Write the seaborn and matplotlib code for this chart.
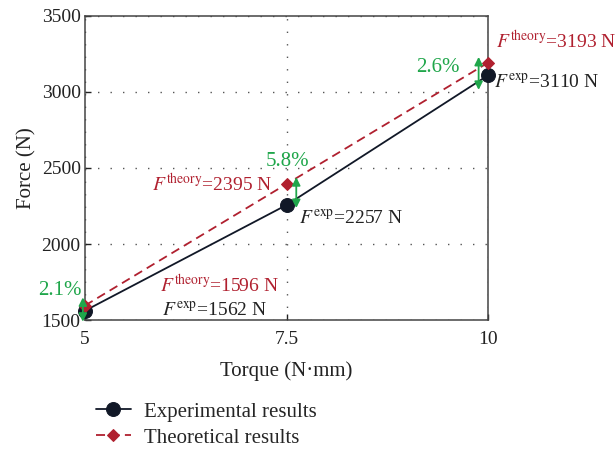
import numpy as np
import pandas as pd
import matplotlib
matplotlib.use('Agg')
import matplotlib.pyplot as plt
import seaborn as sns

# data
torque = [5, 7.5, 10]
f_exp = [1562, 2257, 3110]
f_theory = [1596, 2395, 3193]
errors = ['2.1%', '5.8%', '2.6%']

RED = '#b0202f'
NAVY = '#111827'
GREEN = '#1fa64a'

sns.set_style('ticks')
plt.rcParams['font.family'] = ['Liberation Serif', 'DejaVu Serif']
plt.rcParams['mathtext.fontset'] = 'stix'

df = pd.DataFrame({'torque': torque, 'exp': f_exp, 'theory': f_theory})

fig = plt.figure(figsize=(6.15, 4.51), dpi=100)
ax = fig.add_axes([0.138, 0.290, 0.656, 0.675])

sns.lineplot(data=df, x='torque', y='exp', ax=ax, color=NAVY, lw=1.3,
             marker='o', markersize=10, markeredgecolor=NAVY,
             label='Experimental results', clip_on=False, zorder=4)
sns.lineplot(data=df, x='torque', y='theory', ax=ax, color=RED, lw=1.3,
             linestyle=(0, (5, 3)), marker='D', markersize=6.5,
             markeredgecolor=RED, label='Theoretical results',
             clip_on=False, zorder=5)

ax.set_xlim(5, 10)
ax.set_ylim(1500, 3500)
ax.set_xticks(torque)
ax.set_xticklabels(['5', '7.5', '10'])
ax.set_yticks([1500, 2000, 2500, 3000, 3500])
ax.tick_params(direction='in', length=4, width=1, labelsize=14, colors='#222222')
ax.tick_params(axis='x', pad=8)
ax.tick_params(axis='y', pad=3)
for s in ax.spines.values():
    s.set_color('#444444')
    s.set_linewidth(1.1)
ax.grid(True, linestyle=(0, (1, 8)), color='#555555', lw=1)
ax.set_xlabel('Torque (N·mm)', fontsize=15, color='#222222', labelpad=9)
ax.set_ylabel('Force (N)', fontsize=15, color='#222222', labelpad=4)

# error arrows (x offset, top, bottom)
arrow_x = [4.975, 7.62, 9.88]
arrow_top = [1650, 2440, 3230]
arrow_bot = [1490, 2237, 3013]
for x, t, b in zip(arrow_x, arrow_top, arrow_bot):
    ax.annotate('', xy=(x, t), xytext=(x, b), annotation_clip=False,
                arrowprops=dict(arrowstyle='<|-|>', color=GREEN, lw=1.3,
                                mutation_scale=12, shrinkA=0, shrinkB=0),
                zorder=6)

pct_pos = [(4.69, 1697), (7.51, 2540), (9.38, 3158)]
for (x, y), e in zip(pct_pos, errors):
    ax.text(x, y, e, color=GREEN, fontsize=15, ha='center', va='center',
            clip_on=False)

theory_pos = [(5.93, 1730), (5.83, 2395), (10.09, 3329)]
exp_pos = [(5.96, 1566), (7.65, 2171), (10.07, 3066)]
for (x, y), v in zip(theory_pos, f_theory):
    ax.text(x, y, r'$F^{\mathrm{theory}}$=' + f'{v} N', color=RED,
            fontsize=14, ha='left', va='center', clip_on=False)
for (x, y), v in zip(exp_pos, f_exp):
    ax.text(x, y, r'$F^{\mathrm{exp}}$=' + f'{v} N', color='#222222',
            fontsize=14, ha='left', va='center', clip_on=False)

ax.get_legend().remove()
h, l = ax.get_legend_handles_labels()
fig.legend(h, l, loc='upper left', bbox_to_anchor=(0.125, 0.15),
           frameon=False, fontsize=15, handlelength=1.7, handletextpad=0.6,
           labelspacing=0.3)

fig.savefig('out.png', dpi=100)
